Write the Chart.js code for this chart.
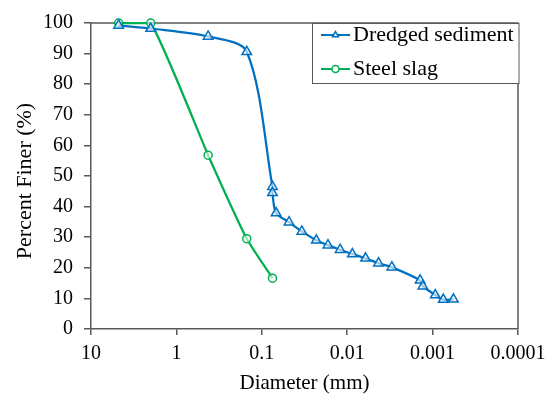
<!DOCTYPE html>
<html>
<head>
<meta charset="utf-8">
<script src="https://cdn.jsdelivr.net/npm/chart.js@4/dist/chart.umd.min.js"></script>
<style>
  html, body { margin: 0; padding: 0; background: #fff; }
  #wrap { width: 554px; height: 396px; }
</style>
</head>
<body>
<div id="wrap"><canvas id="psdChart" width="554" height="396"></canvas></div>
<script>
// grain size data
const sedimentDiameter = [4.75, 2.0, 0.425, 0.15, 0.075, 0.075, 0.068, 0.048, 0.034, 0.023,
    0.0168, 0.0121, 0.0087, 0.0061, 0.0043, 0.0030, 0.0014, 0.0013, 0.00093, 0.00075, 0.00057];
const sedimentFiner = [99.2, 98.2, 95.6, 90.6, 46.5, 44.5, 37.9, 34.9, 31.9, 29.0,
    27.4, 25.9, 24.5, 23.1, 21.5, 20.2, 15.9, 14.0, 11.1, 9.6, 9.7];

const slagDiameter = [4.75, 2.0, 0.425, 0.15, 0.075];
const slagFiner = [100, 100, 56.8, 29.5, 16.6];

const seriesLabels = ["Dredged sediment", "Steel slag"];
const xTickValues = [10, 1, 0.1, 0.01, 0.001, 0.0001];
const xTickLabels = ["10", "1", "0.1", "0.01", "0.001", "0.0001"];

const axisColor = "#595959";
const serif = "'Liberation Serif', 'Times New Roman', serif";

function toPoints(xs, ys) {
    return xs.map((x, i) => ({ x: x, y: ys[i] }));
}

// box legend drawn inside the plot, top right
const boxLegend = {
    id: "boxLegend",
    afterDraw(chart) {
        const ctx = chart.ctx;
        const area = chart.chartArea;
        const left = 312, top = area.top, right = area.right + 1.5, bottom = 83;
        ctx.save();
        ctx.fillStyle = "#fff";
        ctx.fillRect(left, top, right - left, bottom - top);
        ctx.strokeStyle = axisColor;
        ctx.lineWidth = 1;
        ctx.strokeRect(left + 0.5, top + 0.5, right - left - 1, bottom - top);

        const rows = [35, 69];
        chart.data.datasets.forEach((ds, i) => {
            const y = rows[i];
            ctx.strokeStyle = ds.borderColor;
            ctx.lineWidth = 2;
            ctx.beginPath();
            ctx.moveTo(321, y);
            ctx.lineTo(350, y);
            ctx.stroke();
            ctx.fillStyle = "#fff";
            ctx.lineWidth = 1.5;
            Chart.helpers.drawPoint(ctx, {
                pointStyle: ds.pointStyle, radius: 3.5, rotation: 0, borderWidth: 1.5
            }, 335.5, y);
            ctx.fillStyle = "#000";
            ctx.font = "22px " + serif;
            ctx.textBaseline = "middle";
            ctx.textAlign = "left";
            ctx.fillText(ds.label, 353, y);
        });
        ctx.restore();
    }
};

// top and right edges of the plot frame, plus the y title
const frame = {
    id: "frame",
    beforeDatasetsDraw(chart) {
        const ctx = chart.ctx;
        const a = chart.chartArea;
        ctx.save();
        ctx.strokeStyle = axisColor;
        ctx.lineWidth = 1.5;
        ctx.beginPath();
        ctx.moveTo(a.left, a.top);
        ctx.lineTo(a.right, a.top);
        ctx.lineTo(a.right, a.bottom);
        ctx.stroke();

        ctx.translate(25, 181);
        ctx.rotate(-Math.PI / 2);
        ctx.fillStyle = "#000";
        ctx.font = "22px " + serif;
        ctx.textAlign = "center";
        ctx.textBaseline = "middle";
        ctx.fillText("Percent Finer (%)", 0, 0);
        ctx.restore();
    }
};

const ctx = document.getElementById("psdChart");

new Chart(ctx, {
    type: "line",
    data: {
        datasets: [{
            label: seriesLabels[0],
            data: toPoints(sedimentDiameter, sedimentFiner),
            borderColor: "#0070C0",
            backgroundColor: "#fff",
            borderWidth: 2.25,
            pointStyle: "triangle",
            pointRadius: 5.5,
            pointBorderWidth: 1.5,
            pointBackgroundColor: "rgba(255,255,255,0.6)",
            tension: 0.3,
            clip: false
        }, {
            label: seriesLabels[1],
            data: toPoints(slagDiameter, slagFiner),
            borderColor: "#00B050",
            backgroundColor: "#fff",
            borderWidth: 2.25,
            pointStyle: "circle",
            pointRadius: 4,
            pointBorderWidth: 1.5,
            pointBackgroundColor: "rgba(255,255,255,0.6)",
            tension: 0.15,
            clip: false
        }]
    },
    options: {
        responsive: false,
        animation: false,
        layout: {
            padding: { left: 0, right: 36, top: 19, bottom: 0 }
        },
        plugins: {
            legend: { display: false },
            tooltip: { enabled: false }
        },
        scales: {
            x: {
                type: "logarithmic",
                reverse: true,
                min: 0.0001,
                max: 10,
                afterBuildTicks(scale) {
                    scale.ticks = xTickValues.map(v => ({ value: v }));
                },
                afterFit(scale) {
                    scale.height = 67;
                },
                grid: {
                    drawOnChartArea: false,
                    drawTicks: true,
                    tickLength: 6,
                    color: axisColor,
                    lineWidth: 1.5
                },
                border: { display: true, color: axisColor, width: 1.5 },
                ticks: {
                    autoSkip: false,
                    maxRotation: 0,
                    padding: 7,
                    color: "#000",
                    font: { family: serif, size: 20 },
                    callback: (value) => {
                        const i = xTickValues.indexOf(value);
                        return i >= 0 ? xTickLabels[i] : "";
                    }
                },
                title: {
                    display: true,
                    text: "Diameter (mm)",
                    color: "#000",
                    font: { family: serif, size: 21 },
                    padding: { top: 0, bottom: 0 }
                }
            },
            y: {
                min: 0,
                max: 100,
                afterFit(scale) {
                    scale.width = 91;
                },
                grid: {
                    drawOnChartArea: false,
                    drawTicks: true,
                    tickLength: 7,
                    color: axisColor,
                    lineWidth: 1.5
                },
                border: { display: true, color: axisColor, width: 1.5 },
                ticks: {
                    stepSize: 10,
                    padding: 11,
                    color: "#000",
                    font: { family: serif, size: 20 }
                },
                title: { display: false }
            }
        }
    },
    plugins: [frame, boxLegend]
});
</script>
</body>
</html>
